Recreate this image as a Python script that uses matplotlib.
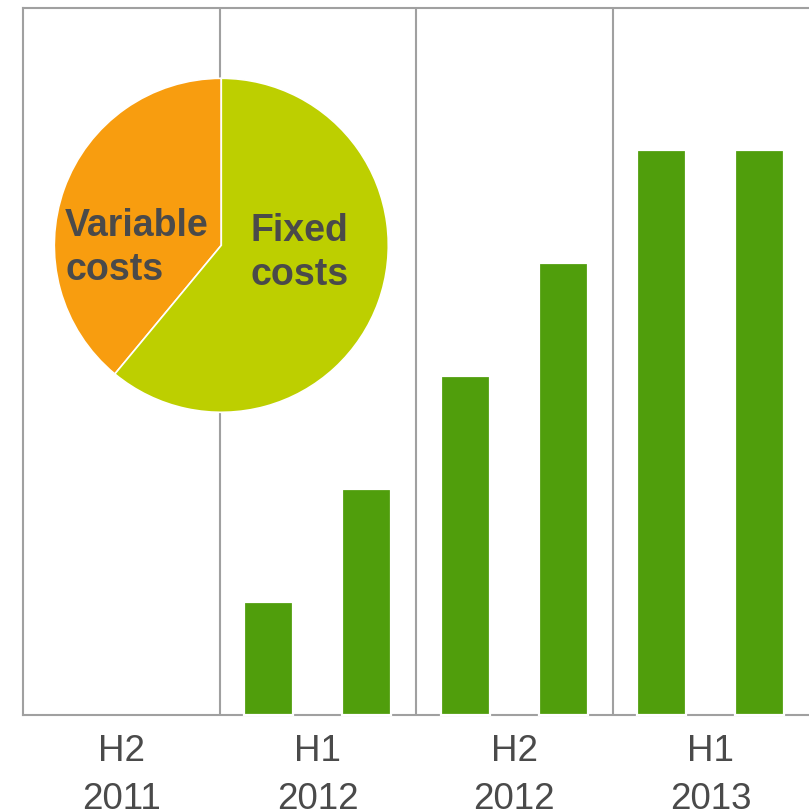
import matplotlib
matplotlib.use("Agg")
import matplotlib.pyplot as plt
import numpy as np

# ---- data ----
categories = ["H2\n2011", "H1\n2012", "H2\n2012", "H1\n2013"]
bar_values = [np.nan, np.nan, 1, 2, 3, 4, 5, 5]   # two half-year slots per category
pie_labels = ["Variable\ncosts", "Fixed\ncosts"]
pie_shares = [39, 61]

# ---- style ----
BAR_GREEN = "#509E0C"
PIE_COLORS = ["#F89D0F", "#BDCF00"]
GRID_GRAY = "#A0A0A0"
TEXT_DARK = "#4A4A4A"
plt.rcParams["font.family"] = ["Liberation Sans", "DejaVu Sans"]

W = H = 809
fig = plt.figure(figsize=(W / 100, H / 100), dpi=100)
ax = fig.add_axes([23 / W, 1 - 714.5 / H, 786 / W, (714.5 - 8) / H])

slots = np.arange(len(bar_values))
vals = np.array(bar_values, dtype=float)
mask = ~np.isnan(vals)
ax.bar(slots[mask], vals[mask], width=0.5, color=BAR_GREEN, edgecolor="white",
       linewidth=1.6, zorder=3, clip_on=False)

ax.set_xlim(-0.5, len(bar_values) - 0.5)
ax.set_ylim(0, 6.26)

n_per = len(bar_values) // len(categories)
centers = [i * n_per + (n_per - 1) / 2 for i in range(len(categories))]
ax.set_xticks(centers)
ax.set_xticklabels(categories, fontsize=26.5, color=TEXT_DARK, linespacing=1.48)
bounds = [i * n_per - 0.5 for i in range(1, len(categories))]
ax.set_xticks(bounds, minor=True)
ax.tick_params(axis="x", which="both", length=0, pad=14)
ax.set_yticks([])
ax.grid(axis="x", which="minor", color=GRID_GRAY, linewidth=1.5, zorder=0)
ax.grid(axis="x", which="major", visible=False)

for s in ["left", "top", "bottom"]:
    ax.spines[s].set_color(GRID_GRAY)
    ax.spines[s].set_linewidth(1.5)
ax.spines["right"].set_visible(False)

# ---- pie inset ----
cx, cy, r = 221.3, 245.3, 167
pax = fig.add_axes([(cx - r) / W, 1 - (cy + r) / H, 2 * r / W, 2 * r / H])
pax.pie(pie_shares, colors=PIE_COLORS, startangle=90, counterclock=True,
        radius=1, wedgeprops=dict(edgecolor="white", linewidth=1.2))
pax.set_xlim(-1, 1)
pax.set_ylim(-1, 1)
pax.set_aspect("equal")
pax.axis("off")
pax.patch.set_alpha(0)

pax.text(-0.935, -0.015, pie_labels[0], ha="left", va="center", fontsize=27,
         fontweight="bold", color=TEXT_DARK, linespacing=1.3)
pax.text(0.172, -0.045, pie_labels[1], ha="left", va="center", fontsize=27,
         fontweight="bold", color=TEXT_DARK, linespacing=1.3)

fig.savefig("out.png", dpi=100)
